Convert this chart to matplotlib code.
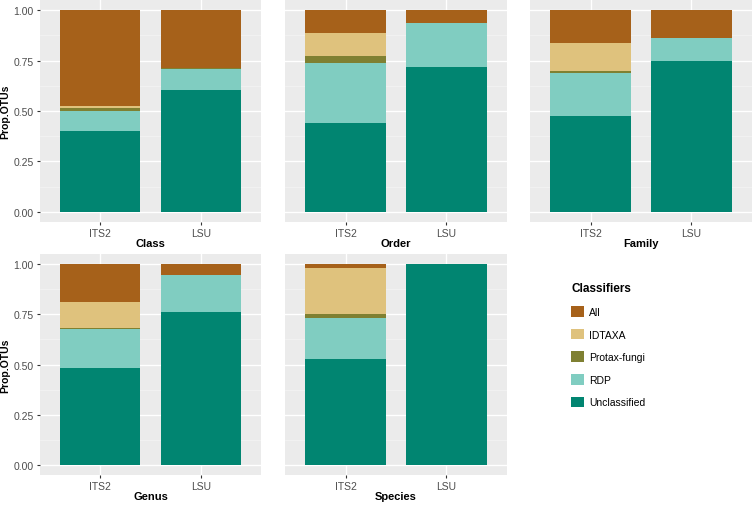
import matplotlib
matplotlib.use("Agg")
import matplotlib.pyplot as plt
from matplotlib.patches import Patch
import numpy as np

plt.rcParams['font.family'] = ['Liberation Sans', 'DejaVu Sans']

ranks = ['Class', 'Order', 'Family', 'Genus', 'Species']
markers = ['ITS2', 'LSU']
classifiers = ['All', 'IDTAXA', 'Protax-fungi', 'RDP', 'Unclassified']
colors = {'All': '#A6611A', 'IDTAXA': '#DFC27D', 'Protax-fungi': '#7F8032',
          'RDP': '#80CDC1', 'Unclassified': '#018571'}

# proportions per rank: [ITS2, LSU]
unclassified = {'Class': [0.403, 0.605], 'Order': [0.443, 0.718], 'Family': [0.473, 0.748],
                'Genus': [0.483, 0.760], 'Species': [0.526, 1.000]}
rdp = {'Class': [0.098, 0.105], 'Order': [0.295, 0.216], 'Family': [0.213, 0.112],
       'Genus': [0.194, 0.187], 'Species': [0.205, 0.000]}
protax = {'Class': [0.012, 0.005], 'Order': [0.033, 0.000], 'Family': [0.013, 0.000],
          'Genus': [0.007, 0.000], 'Species': [0.020, 0.000]}
idtaxa = {'Class': [0.012, 0.000], 'Order': [0.116, 0.000], 'Family': [0.137, 0.000],
          'Genus': [0.129, 0.000], 'Species': [0.231, 0.000]}
all_cls = {'Class': [0.475, 0.285], 'Order': [0.113, 0.066], 'Family': [0.164, 0.140],
           'Genus': [0.187, 0.053], 'Species': [0.018, 0.000]}

stack = [('Unclassified', unclassified), ('RDP', rdp), ('Protax-fungi', protax),
         ('IDTAXA', idtaxa), ('All', all_cls)]

W, H = 756, 506
fig = plt.figure(figsize=(W / 100, H / 100), dpi=100)

def px_axes(x0, y0, x1, y1):
    return fig.add_axes([x0 / W, 1 - y1 / H, (x1 - x0) / W, (y1 - y0) / H])

cols = [(40, 261), (285, 507), (530, 752)]
rows = [(1, 223), (255, 476)]
positions = [(0, 0), (0, 1), (0, 2), (1, 0), (1, 1)]

for rank, (r, c) in zip(ranks, positions):
    ax = px_axes(cols[c][0], rows[r][0], cols[c][1], rows[r][1])
    ax.set_facecolor('#EBEBEB')
    x = np.arange(len(markers)) + 1
    bottom = np.zeros(len(markers))
    for name, d in stack:
        vals = np.array(d[rank])
        ax.bar(x, vals, width=0.8, bottom=bottom, color=colors[name], linewidth=0, zorder=3)
        bottom += vals
    ax.set_xlim(0.4, 2.6)
    ax.set_ylim(-0.05, 1.05)
    ax.set_yticks([0, 0.25, 0.5, 0.75, 1.0])
    ax.set_yticks([0.125, 0.375, 0.625, 0.875], minor=True)
    ax.set_xticks(x)
    ax.grid(which='major', color='white', linewidth=1.0, zorder=0)
    ax.grid(which='minor', axis='y', color='#F5F5F5', linewidth=0.5, zorder=0)
    ax.set_axisbelow(True)
    for s in ax.spines.values():
        s.set_visible(False)
    ax.tick_params(axis='both', which='major', length=2.5, width=0.8, color='#333333',
                   labelsize=7.5, labelcolor='#4D4D4D', pad=2)
    ax.tick_params(axis='y', which='minor', length=0)
    ax.set_xticklabels(markers)
    if c == 0:
        ax.set_yticklabels(['0.00', '0.25', '0.50', '0.75', '1.00'])
        ax.set_ylabel('Prop.OTUs', fontsize=7.5, fontweight='bold')
        ax.yaxis.set_label_coords(-30 / 221, 0.5)
    else:
        ax.set_yticklabels([])
        ax.tick_params(axis='y', which='major', length=0)
    ax.set_xlabel(rank, fontsize=8, fontweight='bold', labelpad=0)

handles = [Patch(facecolor=colors[k], edgecolor='none', label=k) for k in classifiers]
leg = fig.legend(handles=handles, title='Classifiers', loc='upper left',
                 bbox_to_anchor=(562 / W, 1 - 274 / H), frameon=False,
                 fontsize=7.5, title_fontproperties={'weight': 'bold', 'size': 8.5},
                 handlelength=1.2, handleheight=1.2, labelspacing=1.13, handletextpad=0.5,
                 alignment='left')

fig.savefig('out.png', dpi=100)
